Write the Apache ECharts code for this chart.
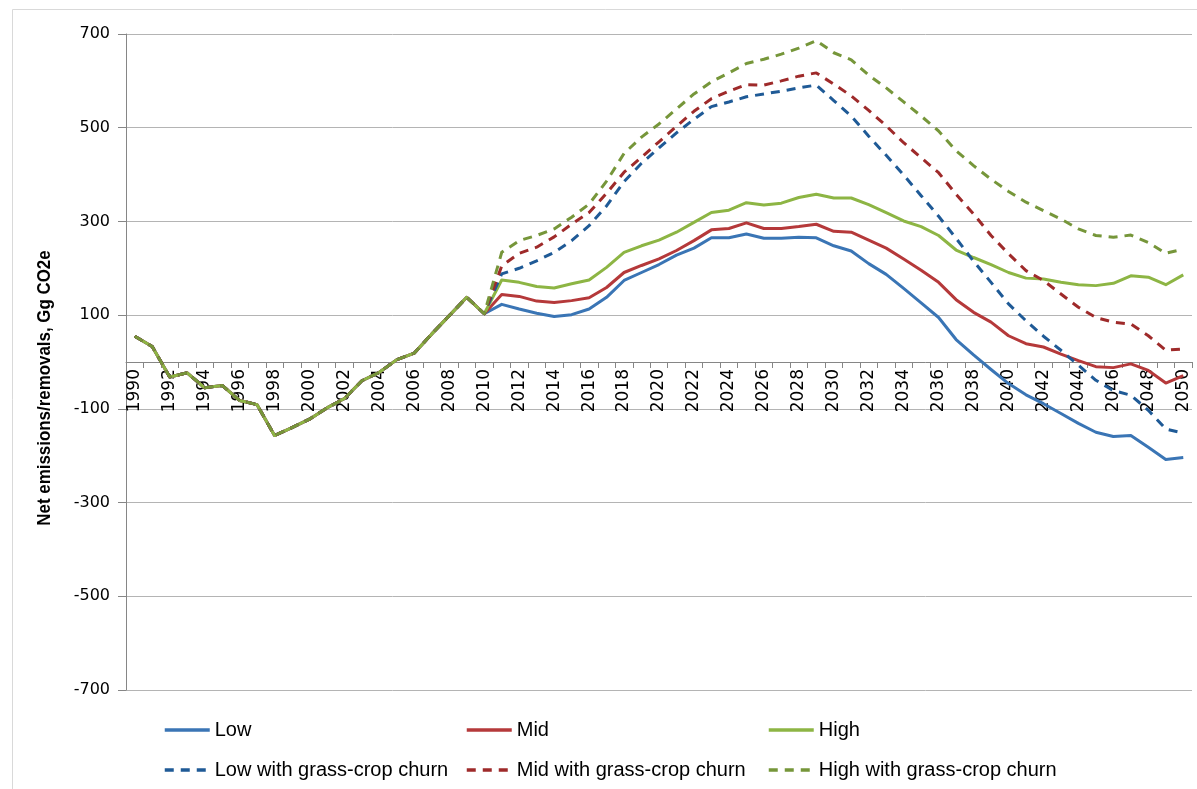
<!DOCTYPE html>
<html>
<head>
<meta charset="utf-8">
<script src="https://cdn.jsdelivr.net/npm/echarts@6/dist/echarts.min.js"></script>
<style>
html,body{margin:0;padding:0;background:#fff;}
#chart{width:1197px;height:789px;}
</style>
</head>
<body>
<div id="chart"></div>
<script>
const years = ['1990','1991','1992','1993','1994','1995','1996','1997','1998','1999',
'2000','2001','2002','2003','2004','2005','2006','2007','2008','2009',
'2010','2011','2012','2013','2014','2015','2016','2017','2018','2019',
'2020','2021','2022','2023','2024','2025','2026','2027','2028','2029',
'2030','2031','2032','2033','2034','2035','2036','2037','2038','2039',
'2040','2041','2042','2043','2044','2045','2046','2047','2048','2049','2050'];

// 1990-2010 common inventory values
const history = [55, 33, -32, -23, -55, -50, -82, -91, -157, -140, -122, -98, -78, -40, -22, 5, 19, 60, 99, 138, 103];

// 2011-2050 projections
const lowProj = [123, 113, 104, 97, 101, 113, 138, 174, 191, 208, 228, 243, 265, 265, 273, 264, 264, 266, 265, 248,
  237, 210, 187, 157, 126, 95, 48, 15, -16, -46, -70, -89, -110, -131, -150, -159, -157, -182, -208, -204];
const midProj = [144, 140, 130, 127, 131, 137, 159, 191, 206, 220, 238, 259, 282, 285, 297, 285, 285, 289, 294, 279,
  277, 260, 243, 220, 196, 170, 133, 106, 85, 56, 39, 32, 17, 3, -10, -12, -4, -18, -45, -29];
const highProj = [175, 170, 161, 158, 167, 175, 202, 234, 248, 260, 277, 298, 319, 324, 340, 335, 339, 351, 358, 350,
  350, 336, 319, 301, 289, 270, 239, 223, 208, 191, 179, 177, 170, 165, 163, 168, 184, 181, 165, 186];
const lowChurnProj = [188, 200, 216, 234, 259, 291, 333, 385, 424, 457, 489, 518, 545, 555, 566, 572, 578, 585, 591, 558,
  525, 482, 441, 399, 355, 311, 264, 215, 170, 124, 88, 55, 25, -7, -39, -61, -71, -103, -143, -152];
const midChurnProj = [205, 232, 245, 267, 294, 319, 360, 405, 437, 470, 503, 535, 562, 578, 592, 591, 600, 610, 617, 593,
  568, 537, 504, 468, 436, 404, 358, 316, 270, 231, 195, 174, 145, 117, 95, 85, 81, 56, 25, 28];
const highChurnProj = [234, 259, 270, 284, 309, 337, 386, 445, 480, 508, 540, 572, 598, 617, 637, 646, 657, 670, 686, 660,
  645, 612, 585, 555, 525, 493, 451, 419, 390, 364, 341, 323, 305, 284, 270, 266, 271, 255, 232, 241];

const yTicks = [-700, -500, -300, -100, 100, 300, 500, 700];

const seriesNames = ['Low', 'Mid', 'High', 'Low with grass-crop churn', 'Mid with grass-crop churn', 'High with grass-crop churn'];
const seriesColors = ['#3A75B5', '#B5393A', '#8DB544', '#1F5A96', '#9E2A2A', '#76963A'];
const seriesProj = [lowProj, midProj, highProj, lowChurnProj, midChurnProj, highChurnProj];

const chart = echarts.init(document.getElementById('chart'));

const series = seriesNames.map((name, i) => ({
  name: name,
  type: 'line',
  xAxisIndex: 0,
  yAxisIndex: 0,
  data: history.concat(seriesProj[i]),
  symbol: 'none',
  showSymbol: false,
  smooth: false,
  animation: false,
  lineStyle: {
    color: seriesColors[i],
    width: 3,
    type: i >= 3 ? [9, 7] : 'solid',
    cap: 'butt',
    join: 'round'
  },
  itemStyle: { color: seriesColors[i] }
}));

const legendPos = [
  { left: 163, top: 720 }, { left: 465, top: 720 }, { left: 767, top: 720 },
  { left: 163, top: 760 }, { left: 465, top: 760 }, { left: 767, top: 760 }
];
const legends = seriesNames.map((name, i) => ({
  data: [name],
  left: legendPos[i].left,
  top: legendPos[i].top,
  orient: 'horizontal',
  itemWidth: 45,
  itemHeight: 20,
  itemGap: 5,
  padding: 0,
  selectedMode: false,
  itemStyle: { opacity: 0 },
  lineStyle: { width: 3.5 },
  textStyle: { fontFamily: 'Liberation Sans', fontSize: 20, color: '#000' }
}));

const PLOT_TOP = 34, PLOT_H = 656, PLOT_BOTTOM = 789 - PLOT_TOP - PLOT_H;
const ZERO_Y = PLOT_TOP + PLOT_H / 2;

chart.setOption({
  backgroundColor: '#fff',
  animation: false,
  grid: [
    { left: 126, right: 5, top: PLOT_TOP, bottom: PLOT_BOTTOM, containLabel: false },
    { left: 126, right: 5, top: PLOT_TOP, bottom: 789 - ZERO_Y, containLabel: false }
  ],
  legend: legends,
  xAxis: [
    {
      gridIndex: 0,
      type: 'category',
      data: years,
      boundaryGap: true,
      show: false
    },
    {
      gridIndex: 1,
      type: 'category',
      data: years,
      boundaryGap: true,
      position: 'bottom',
      axisLine: { show: true, onZero: false, lineStyle: { color: '#868686', width: 1 } },
      axisTick: { show: true, interval: 0, length: 6, lineStyle: { color: '#868686' } },
      axisLabel: {
        interval: 1,
        rotate: 90,
        margin: 7,
        fontFamily: 'DejaVu Sans',
        fontSize: 17,
        color: '#000'
      },
      splitLine: { show: false }
    }
  ],
  yAxis: [
    {
      gridIndex: 0,
      type: 'value',
      min: -700,
      max: 700,
      interval: 200,
      axisLine: { show: true, lineStyle: { color: '#868686', width: 1 } },
      axisTick: { show: true, length: 8, lineStyle: { color: '#868686' } },
      axisLabel: {
        margin: 16,
        fontFamily: 'DejaVu Sans',
        fontSize: 16,
        color: '#000',
        formatter: function (v) { return yTicks.indexOf(v) >= 0 ? String(v) : ''; }
      },
      splitLine: { show: true, lineStyle: { color: '#B4B4B4', width: 1 } }
    },
    {
      gridIndex: 1,
      type: 'value',
      show: false,
      splitLine: { show: false }
    }
  ],
  graphic: [
    {
      type: 'rect',
      left: 10, top: 7,
      shape: { width: 1186, height: 800 },
      style: { fill: 'none', stroke: '#D9D9D9', lineWidth: 1 },
      silent: true, z: -1
    },
    {
      type: 'text',
      x: 45, y: 388,
      rotation: Math.PI / 2,
      scaleX: 0.89,
      style: {
        text: 'Net emissions/removals, Gg CO2e',
        fontFamily: 'Liberation Sans',
        fontWeight: 'bold',
        fontSize: 19,
        fill: '#000',
        align: 'center',
        verticalAlign: 'middle'
      },
      silent: true
    }
  ],
  series: series
});
</script>
</body>
</html>
